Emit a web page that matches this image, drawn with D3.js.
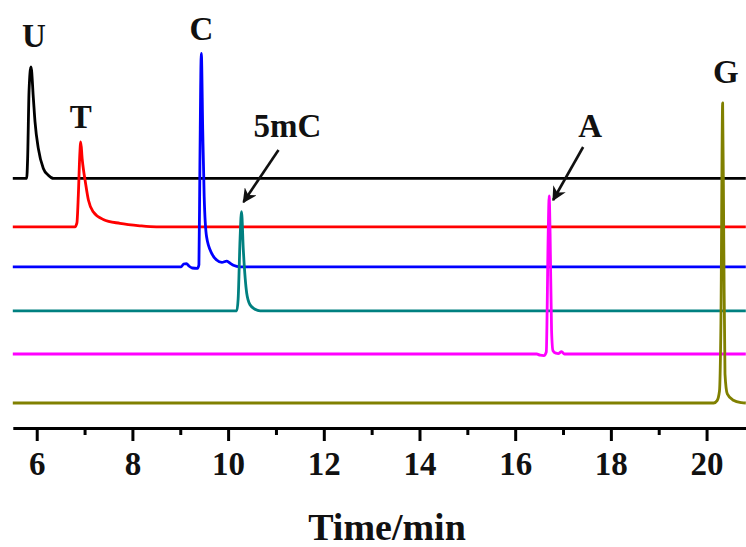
<!DOCTYPE html>
<html>
<head>
<meta charset="utf-8">
<script src="https://cdn.jsdelivr.net/npm/d3@7"></script>
<style>
  body { margin: 0; background: #fff; }
  text { font-family: "Liberation Serif", "Times New Roman", serif; font-weight: bold; }
</style>
</head>
<body>
<div id="chart"></div>
<script>
// Chromatogram traces: [time (min), signal above its own baseline]
var traceNames = ["U", "T", "C", "5mC", "A", "G"];
var traceColors = ["#000000", "#ff0000", "#0000ff", "#008080", "#ff00ff", "#808000"];
var traceOffsets = [62.4, 50.3, 40.3, 29.3, 18.5, 6.25];

var traceU = [[5.5,0],[5.79,0],[5.81,5],[5.84,22],[5.88,27.9],[5.93,20],[5.964,14.2],[6.033,7.5],
  [6.138,2.5],[6.242,0.8],[6.35,0],[20.82,0]];
var traceT = [[5.5,0],[6.80,0],[6.84,1],[6.87,8],[6.90,18],[6.92,21.25],[6.95,17],[6.98,14],[7.01,11.7],
  [7.08,6.7],[7.18,3.75],[7.39,1.85],[7.74,0.85],[8.16,0.25],[8.5,0],[20.82,0]];
var traceC = [[5.5,0],[9.02,0],[9.07,0.7],[9.13,0.8],[9.18,0.2],[9.25,-0.3],[9.36,-0.4],[9.39,0.5],
  [9.41,25],[9.44,53.35],[9.47,34],[9.50,17.5],[9.55,7.5],[9.66,3.3],[9.76,1.7],[9.87,1.1],[9.97,1.4],
  [10.03,1.0],[10.11,0.4],[10.25,0],[20.82,0]];
var trace5mC = [[5.5,0],[10.18,0],[10.21,3],[10.25,18],[10.28,24.8],[10.318,15.25],[10.389,4.4],
  [10.458,1.5],[10.562,0.4],[10.67,0],[20.82,0]];
var traceA = [[5.5,0],[16.45,0],[16.52,-0.3],[16.60,-0.4],[16.65,0.5],[16.69,30],[16.71,39.5],[16.73,30],
  [16.76,6],[16.79,0.8],[16.85,0.2],[16.90,0.1],[16.97,0.6],[17.03,0],[20.82,0]];
var traceG = [[5.5,0],[20.15,0],[20.22,0.6],[20.27,3],[20.30,20],[20.336,75],[20.36,40],[20.385,7.3],
  [20.433,2.3],[20.56,0.7],[20.73,0.1],[20.82,0]];
var traces = [traceU, traceT, traceC, trace5mC, traceA, traceG];

// peak labels sit at the retention times
var labelTimes = [5.90, 6.92, 9.44, 10.28, 16.71, 20.34];
var majorTicks = [6, 8, 10, 12, 14, 16, 18, 20];
var minorTicks = [7, 9, 11, 13, 15, 17, 19];

var W = 746, H = 547;

var svg = d3.select("#chart")
    .append("svg")
    .attr("width", W)
    .attr("height", H);

var x = d3.scaleLinear().domain([5.5, 20.82]).range([12.8, 745.8]);
var y = d3.scaleLinear().domain([0, 100]).range([428, 28]);

var line = d3.line()
    .x(function(d) { return x(d[0]); })
    .y(function(d) { return y(d[1] + d.off); })
    .curve(d3.curveMonotoneX);

traces.forEach(function(tr, i) {
    var pts = tr.map(function(p) { var q = [p[0], p[1]]; q.off = traceOffsets[i]; return q; });
    svg.append("path")
        .attr("d", line(pts))
        .attr("fill", "none")
        .attr("stroke", traceColors[i])
        .attr("stroke-width", 2.8)
        .attr("stroke-linejoin", "round");
});

// x axis
var axisG = svg.append("g").attr("transform", "translate(0," + y(0) + ")");
axisG.call(d3.axisBottom(x).tickValues(majorTicks).tickSize(13).tickSizeOuter(0).tickPadding(11)
    .tickFormat(d3.format("d")));
axisG.select(".domain").attr("stroke-width", 3);
axisG.selectAll(".tick line").attr("stroke-width", 3);
axisG.selectAll(".tick text")
    .attr("font-size", 33)
    .attr("font-family", "Liberation Serif, Times New Roman, serif")
    .attr("font-weight", "bold")
    .attr("fill", "#111");

var minorG = svg.append("g").attr("transform", "translate(0," + y(0) + ")");
minorG.call(d3.axisBottom(x).tickValues(minorTicks).tickSize(7).tickSizeOuter(0).tickFormat(""));
minorG.select(".domain").remove();
minorG.selectAll(".tick line").attr("stroke-width", 3);

// axis title
svg.append("text")
    .attr("x", 387)
    .attr("y", 540)
    .attr("text-anchor", "middle")
    .attr("font-size", 38)
    .attr("fill", "#111")
    .text("Time/min");

// peak labels
var labelPos = [
    { dx: 2, top: 47 },
    { dx: 0, top: 128 },
    { dx: 0, top: 40 },
    { dx: 46, top: 137 },
    { dx: 41, top: 137 },
    { dx: 3, top: 83 }
];
traceNames.forEach(function(n, i) {
    svg.append("text")
        .attr("x", x(labelTimes[i]) + labelPos[i].dx)
        .attr("y", labelPos[i].top)
        .attr("text-anchor", "middle")
        .attr("font-size", 33)
        .attr("fill", "#111")
        .text(n);
});

// arrows for 5mC and A
svg.append("defs").append("marker")
    .attr("id", "head")
    .attr("viewBox", "0 0 10 10")
    .attr("refX", 9).attr("refY", 5)
    .attr("markerWidth", 5.5).attr("markerHeight", 5.5)
    .attr("markerUnits", "strokeWidth")
    .attr("orient", "auto")
    .append("path")
    .attr("d", "M0,0 L10,5 L0,10 L3,5 Z")
    .attr("fill", "#111");

var arrows = [
    { x1: x(10.28) + 37, y1: 150, x2: x(10.28) + 2, y2: 202 },
    { x1: x(16.71) + 34, y1: 147, x2: x(16.71) + 4, y2: 200 }
];
arrows.forEach(function(a) {
    svg.append("line")
        .attr("x1", a.x1).attr("y1", a.y1)
        .attr("x2", a.x2).attr("y2", a.y2)
        .attr("stroke", "#111")
        .attr("stroke-width", 2.6)
        .attr("marker-end", "url(#head)");
});
</script>
</body>
</html>
